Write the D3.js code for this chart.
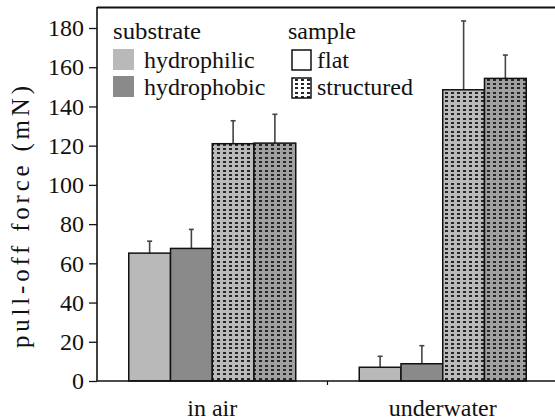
<!DOCTYPE html>
<html><head><meta charset="utf-8">
<script src="https://cdn.jsdelivr.net/npm/d3@7/dist/d3.min.js"></script>
<style>html,body{margin:0;padding:0;background:#fff}svg{display:block}</style>
</head><body><svg id="c" width="555" height="420"></svg>
<script>
const categories = ["in air", "underwater"];
const seriesNames = ["hydrophilic flat", "hydrophobic flat", "hydrophilic structured", "hydrophobic structured"];
const hydrophilicFlat = [65.2, 7.0];
const hydrophobicFlat = [67.6, 8.8];
const hydrophilicStructured = [121.0, 148.5];
const hydrophobicStructured = [121.3, 154.3];
const errHydrophilicFlat = [6.1, 5.6];
const errHydrophobicFlat = [9.7, 9.2];
const errHydrophilicStructured = [11.7, 35.1];
const errHydrophobicStructured = [14.7, 11.9];
const yTicks = [0, 20, 40, 60, 80, 100, 120, 140, 160, 180];

const means = [hydrophilicFlat, hydrophobicFlat, hydrophilicStructured, hydrophobicStructured];
const errs = [errHydrophilicFlat, errHydrophobicFlat, errHydrophilicStructured, errHydrophobicStructured];
const fills = ["#b9b9b9", "#8a8a8a", "url(#patL)", "url(#patD)"];

// pick an installed serif font
function pickFont() {
  const cands = ["Liberation Serif", "Tinos", "Times New Roman", "Times", "Nimbus Roman", "Nimbus Roman No9 L",
    "FreeSerif", "DejaVu Serif", "Noto Serif", "Bitstream Vera Serif", "Georgia", "C059", "P052"];
  const ctx = document.createElement("canvas").getContext("2d");
  const s = "hydrophilic structured 0123456789 WwMm";
  function w(f) { ctx.font = "40px " + f; return ctx.measureText(s).width; }
  const mono = w("monospace"), sans = w("sans-serif");
  for (const c of cands) {
    const a = w(`"${c}", monospace`), b = w(`"${c}", sans-serif`);
    if (Math.abs(a - mono) > 0.5 && Math.abs(b - sans) > 0.5) return `"${c}", serif`;
    if (Math.abs(a - mono) > 0.5 && Math.abs(a - b) < 0.5) return `"${c}", serif`;
  }
  return "serif";
}
const FONT = pickFont();

const svg = d3.select("#c");
const mLeft = 97, mRight = 558, mTop = 28, mBottom = 381;
const x0 = d3.scaleBand().domain(categories).range([mLeft, mRight]).paddingInner(0.2755).paddingOuter(0.1378);
const x1 = d3.scaleBand().domain(seriesNames).range([0, x0.bandwidth()]);
const y = d3.scaleLinear().domain([0, 180]).range([mBottom, mTop]);

const defs = svg.append("defs");
function pat(id, bg) {
  const p = defs.append("pattern").attr("id", id).attr("patternUnits", "userSpaceOnUse")
    .attr("width", 6).attr("height", 13).attr("x", 0).attr("y", 0);
  p.append("rect").attr("width", 6).attr("height", 13).attr("fill", bg);
  [1, 5, 9].forEach(r => p.append("rect").attr("x", 1).attr("y", r).attr("width", 3).attr("height", 2).attr("fill", "#262626"));
}
pat("patL", "#bababa"); pat("patD", "#a0a0a0"); pat("patW", "#ffffff");

const data = [];
categories.forEach((c, ci) => seriesNames.forEach((s, si) => data.push({c, s, si, v: means[si][ci], e: errs[si][ci]})));

// error bars
const eb = svg.append("g").attr("stroke", "#444").attr("stroke-width", 1.6);
data.forEach(d => {
  const cx = x0(d.c) + x1(d.s) + x1.bandwidth() / 2;
  eb.append("line").attr("x1", cx).attr("x2", cx).attr("y1", y(d.v)).attr("y2", y(d.v + d.e));
  eb.append("line").attr("x1", cx - 2.5).attr("x2", cx + 2.5).attr("y1", y(d.v + d.e)).attr("y2", y(d.v + d.e));
});

svg.append("g").selectAll("rect").data(data).join("rect")
  .attr("x", d => x0(d.c) + x1(d.s))
  .attr("y", d => y(d.v))
  .attr("width", x1.bandwidth())
  .attr("height", d => y(0) - y(d.v))
  .attr("fill", d => fills[d.si])
  .attr("stroke", "#111").attr("stroke-width", 1.5);

// axes
const yAxis = svg.append("g").attr("transform", `translate(${mLeft},0)`)
  .call(d3.axisLeft(y).tickValues(yTicks).tickSize(8).tickPadding(5));
yAxis.attr("font-family", FONT).attr("font-size", 24);
yAxis.select(".domain").remove();
yAxis.selectAll("line").attr("stroke", "#111").attr("stroke-width", 1.3);
yAxis.selectAll("text").attr("fill", "#111");
svg.append("line").attr("x1", mLeft).attr("x2", mLeft).attr("y1", 7).attr("y2", mBottom).attr("stroke", "#111").attr("stroke-width", 1.6);
svg.append("line").attr("x1", mLeft).attr("x2", 555).attr("y1", 7.5).attr("y2", 7.5).attr("stroke", "#111").attr("stroke-width", 1.8);
svg.append("line").attr("x1", mLeft).attr("x2", 555).attr("y1", mBottom).attr("y2", mBottom).attr("stroke", "#111").attr("stroke-width", 1.5);
svg.append("line").attr("x1", mLeft + x0.step()).attr("x2", mLeft + x0.step()).attr("y1", mBottom).attr("y2", mBottom + 4).attr("stroke", "#111").attr("stroke-width", 1.2);

svg.append("g").attr("font-family", FONT).attr("font-size", 24).attr("fill", "#111")
  .selectAll("text").data(categories).join("text")
  .attr("x", d => x0(d) + x0.bandwidth() / 2).attr("y", 416)
  .attr("text-anchor", "middle").text(d => d);

svg.append("text").attr("transform", "translate(29,217) rotate(-90)")
  .attr("font-family", FONT).attr("fill", "#111")
  .attr("text-anchor", "middle").attr("font-size", 25)
  .attr("textLength", 262).attr("lengthAdjust", "spacing")
  .text("pull-off force (mN)");

// legend
const lg = svg.append("g").attr("font-size", 24).attr("font-family", FONT).attr("fill", "#111");
lg.append("text").attr("x", 113).attr("y", 39).attr("textLength", 88).attr("lengthAdjust", "spacingAndGlyphs").text("substrate");
lg.append("rect").attr("x", 113).attr("y", 49).attr("width", 21).attr("height", 21).attr("fill", "#b9b9b9");
lg.append("text").attr("x", 144).attr("y", 68).text("hydrophilic");
lg.append("rect").attr("x", 113).attr("y", 76).attr("width", 21).attr("height", 21).attr("fill", "#8a8a8a");
lg.append("text").attr("x", 144).attr("y", 95).text("hydrophobic");
lg.append("text").attr("x", 288).attr("y", 39).text("sample");
lg.append("rect").attr("x", 292).attr("y", 50).attr("width", 19).attr("height", 20).attr("fill", "#fff").attr("stroke", "#111").attr("stroke-width", 1.5);
lg.append("text").attr("x", 317).attr("y", 68).text("flat");
lg.append("rect").attr("x", 292).attr("y", 78).attr("width", 19).attr("height", 20).attr("fill", "url(#patW)").attr("stroke", "#111").attr("stroke-width", 1.5);
lg.append("text").attr("x", 317).attr("y", 95).text("structured");
</script></body></html>
